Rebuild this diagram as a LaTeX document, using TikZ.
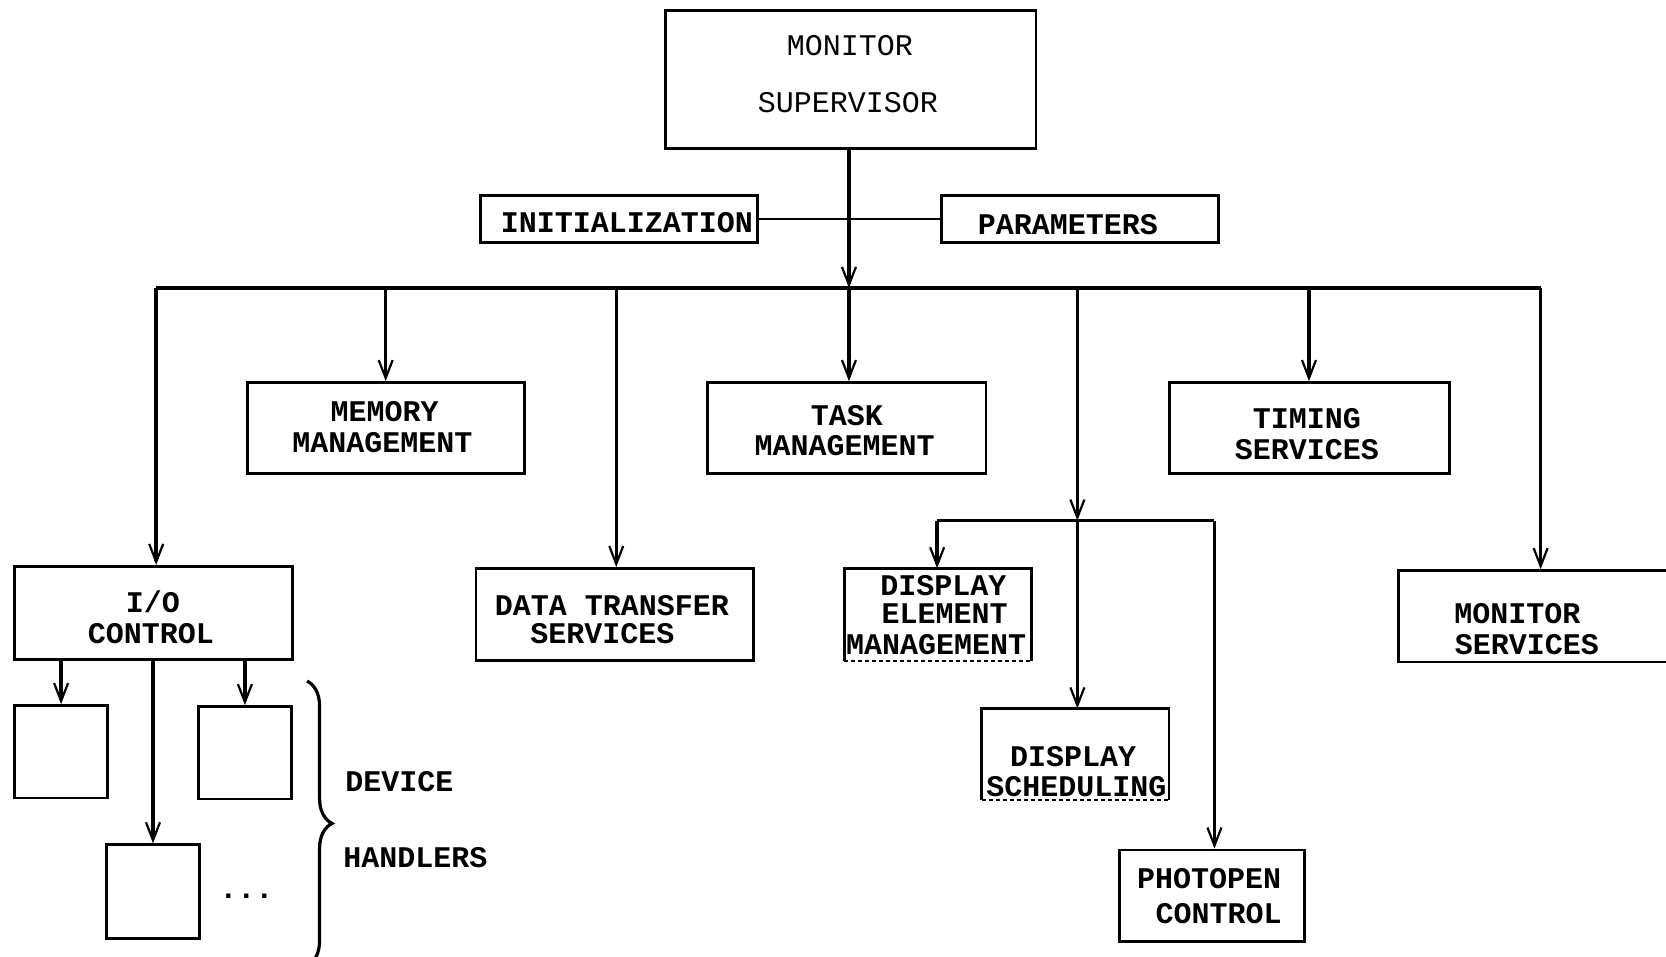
\documentclass[tikz,border=0pt]{standalone}
\usepackage{fontspec}
\setmonofont{Liberation Mono}
\usetikzlibrary{arrows.meta,fit,decorations.pathreplacing}
\tikzset{
 box/.style={draw, line width=2.8pt, inner sep=0pt},
 openbox/.style={inner sep=0pt},
 lbl/.style={font=\ttfamily\bfseries\fontsize{30}{32}\selectfont, inner sep=0pt, anchor=base},
 lblm/.style={font=\ttfamily\fontsize{30}{32}\selectfont, inner sep=0pt, anchor=base},
 conn/.style={line width=3.4pt},
 thin conn/.style={line width=1.8pt},
 arr/.style={line width=3.4pt, -{Straight Barb[length=18pt,width=14pt,line width=2.2pt]}},
 side/.style={line width=2.8pt},
 dotbottom/.style={line width=2.4pt, dash pattern=on 4pt off 3pt},
}
\begin{document}
\begin{tikzpicture}[x=1.0625pt,y=-1.0625pt]
\useasboundingbox (0,0) rectangle (1568,900);
\fill[white] (0,0) rectangle (1568,900);

% boxes
\node[box, fit={(626,10) (975,140)}] (sup) {};
\node[box, fit={(452,184) (713,228)}] (init) {};
\node[box, fit={(886,184) (1147,228)}] (par) {};
\node[box, fit={(233,360) (494,446)}] (mem) {};
\node[box, fit={(666,360) (928,446)}] (task) {};
\node[box, fit={(1101,360) (1364,446)}] (tim) {};
\node[box, fit={(14,533) (275,621)}] (io) {};
\node[box, fit={(448,535) (709,622)}] (dts) {};
\node[openbox, fit={(795,535) (971,622)}] (dem) {};
\node[box, fit={(1316,537) (1610,623)}] (mon) {};
\node[openbox, fit={(924,667) (1100,753)}] (dsch) {};
\node[box, fit={(1054,800) (1228,886)}] (pho) {};
\node[box, fit={(14,664) (101,751)}] (h1) {};
\node[box, fit={(187,665) (274,752)}] (h2) {};
\node[box, fit={(100,795) (188,883)}] (h3) {};

\draw[side] (dem.south west) -- (dem.north west) -- (dem.north east) -- (dem.south east);
\draw[dotbottom] (dem.south west) -- (dem.south east);
\draw[side] (dsch.south west) -- (dsch.north west) -- (dsch.north east) -- (dsch.south east);
\draw[dotbottom] (dsch.south west) -- (dsch.south east);

% labels
\node[lblm] (t1) at (800,52) {MONITOR};
\node[lblm] (t2) at (798,106) {SUPERVISOR};
\node[lbl] (t3) at (590,219) {INITIALIZATION};
\node[lbl] (t4) at (1005,221) {PARAMETERS};
\node[lbl] (t5) at (362,397) {MEMORY};
\node[lbl] (t6) at (360,426) {MANAGEMENT};
\node[lbl] (t7) at (797,400) {TASK};
\node[lbl] (t8) at (795,429) {MANAGEMENT};
\node[lbl] (t9) at (1230,403) {TIMING};
\node[lbl] (t10) at (1230,432) {SERVICES};
\node[lbl] (t11) at (144,576) {I/O};
\node[lbl] (t12) at (142,606) {CONTROL};
\node[lbl] (t13) at (576,579) {DATA TRANSFER};
\node[lbl] (t14) at (567,606) {SERVICES};
\node[lbl] (t15) at (888,560) {DISPLAY};
\node[lbl] (t16) at (889,587) {ELEMENT};
\node[lbl] (t17) at (881,616) {MANAGEMENT};
\node[lbl] (t18) at (1428,587) {MONITOR};
\node[lbl] (t19) at (1437,616) {SERVICES};
\node[lbl] (t20) at (1010,721) {DISPLAY};
\node[lbl] (t21) at (1013,750) {SCHEDULING};
\node[lbl] (t22) at (1138,836) {PHOTOPEN};
\node[lbl] (t23) at (1147,869) {CONTROL};
\node[lbl] (t24) at (376,745) {DEVICE};
\node[lbl] (t25) at (391,816) {HANDLERS};
\node[lbl] (t26) at (232,846) {...};

% bus coordinates
\coordinate (b1) at (147,271);
\coordinate (b2) at (363,271);
\coordinate (b3) at (580,271);
\coordinate (b4) at (799,271);
\coordinate (b5) at (1014,271);
\coordinate (b6) at (1232,271);
\coordinate (b7) at (1450,271);
\coordinate (j) at (1014,490);
\coordinate (jl) at (882,490);
\coordinate (jr) at (1143,490);
\coordinate (br1) at (289,641);
\coordinate (br2) at (289,909);

% connectors
\draw[thin conn] (init.east) -- (par.west);
\draw[arr] (b4 |- sup.south) -- (b4);
\draw[conn] (b1) -- (b7);
\draw[arr] (b1) -- (b1 |- io.north);
\draw[arr] (b2) -- (b2 |- mem.north);
\draw[arr] (b3) -- (b3 |- dts.north);
\draw[arr] (b4) -- (b4 |- task.north);
\draw[arr] (b5) -- (j);
\draw[arr] (j) -- (j |- dsch.north);
\draw[arr] (b6) -- (b6 |- tim.north);
\draw[arr] (b7) -- (b7 |- mon.north);
\draw[conn] (jl) -- (jr);
\draw[arr] (jl) -- (jl |- dem.north);
\draw[arr] (jr) -- (jr |- pho.north);
\draw[arr] (h1.north |- io.south) -- (h1.north);
\draw[arr] (h2.north |- io.south) -- (h2.north);
\draw[arr] (h3.north |- io.south) -- (h3.north);

% brace
\draw[line width=3.2pt, decorate, decoration={brace, amplitude=25pt}] (br1) -- (br2);
\end{tikzpicture}
\end{document}
